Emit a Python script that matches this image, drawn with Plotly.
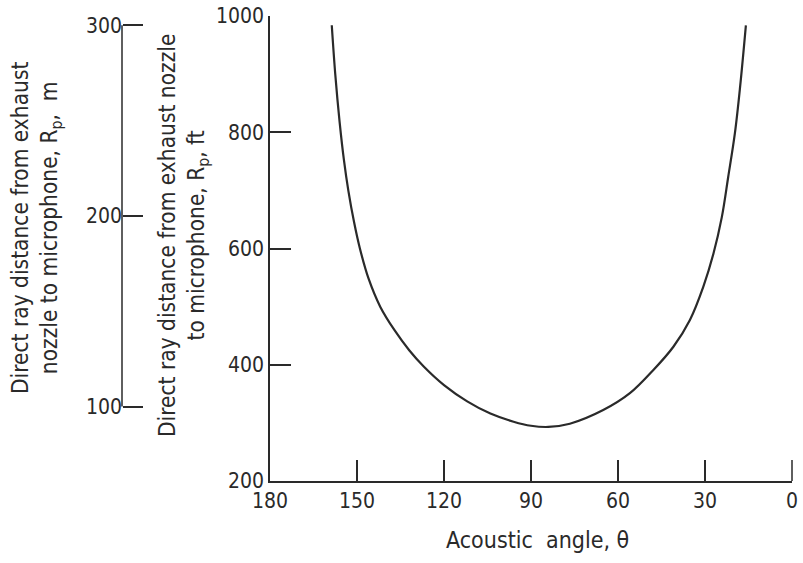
import plotly.graph_objects as go

# Acoustic angle (deg) and direct ray distance (ft)
angle_deg = [158.7, 157.5, 156.0, 154.5, 153.0, 151.0, 149.0, 146.0, 142.0, 137.0,
             132.0, 127.0, 120.0, 112.0, 104.0, 96.0, 90.0, 84.0, 76.6,
             65.1, 55.9, 47.8, 40.9, 35.2, 30.6, 27.1, 24.2, 22.0, 19.7,
             17.9, 15.9]
distance_ft = [984, 900, 818, 752, 700, 645, 600, 548, 500, 459,
               425, 397, 365, 337, 316, 302, 295, 293, 298.5,
               322, 351, 391, 431, 477, 534, 591, 654, 723, 798,
               878, 984]

x_ticks = [180, 150, 120, 90, 60, 30, 0]
ft_ticks = [200, 400, 600, 800, 1000]
m_ticks = [100, 200, 300]
FT_PER_M = 3.28084

FONT = "Liberation Sans Narrow, DejaVu Sans Condensed, Arial Narrow, sans-serif"
INK = "#2a2a2a"
TICKLEN = 21
PLOT_H = 465

fig = go.Figure()
fig.add_trace(go.Scatter(
    x=angle_deg, y=distance_ft, mode="lines",
    line=dict(color=INK, width=2.2, shape="spline", smoothing=1.0),
    showlegend=False, hoverinfo="skip"))

PW = 792  # paper width used by plot (803 - right margin)
x0 = 270 / PW
m_pos = 122 / PW

fig.update_layout(
    width=803, height=563,
    margin=dict(l=0, r=11, t=16, b=82, autoexpand=False),
    paper_bgcolor="white", plot_bgcolor="white",
    font=dict(family=FONT, size=21, color=INK),
    xaxis=dict(domain=[x0, 1], range=[180, 0], tickvals=x_ticks,
               ticktext=[str(v) for v in x_ticks],
               ticks="inside", ticklen=TICKLEN, tickwidth=1.5, tickcolor=INK,
               showline=True, linecolor=INK, linewidth=1.5,
               showgrid=False, zeroline=False, tickfont=dict(size=21),
               automargin=False),
    yaxis=dict(range=[200, 1000], tickvals=ft_ticks,
               ticks="inside", ticklen=TICKLEN, tickwidth=1.5, tickcolor=INK,
               showline=True, linecolor=INK, linewidth=1.5,
               showgrid=False, zeroline=False, tickfont=dict(size=21),
               automargin=False),
    yaxis2=dict(overlaying="y", anchor="free", position=m_pos, side="left",
                range=[200 / FT_PER_M, 1000 / FT_PER_M], tickvals=m_ticks,
                ticks="inside", ticklen=20, tickwidth=1.5, tickcolor=INK,
                showline=False, showgrid=False, zeroline=False,
                tickfont=dict(size=21), automargin=False),
)

# invisible trace to activate yaxis2
fig.add_trace(go.Scatter(x=[None], y=[None], yaxis="y2", showlegend=False))

# meter axis line spanning 100-300 m
fig.add_shape(type="line", xref="paper", yref="y2",
              x0=m_pos, x1=m_pos, y0=m_ticks[0], y1=m_ticks[-1],
              line=dict(color=INK, width=1.5))

# tick at the right end (0 deg) of the angle axis (paper x=1 is the 0 deg end)
fig.add_shape(type="line", xref="paper", yref="paper",
              x0=1, x1=1, y0=0, y1=TICKLEN / PLOT_H,
              line=dict(color=INK, width=1.5))

fig.add_annotation(text="Direct ray distance from exhaust nozzle<br>to microphone, R<sub>p</sub>, ft",
                   xref="paper", yref="paper", x=183 / PW, y=(481 - 236) / PLOT_H,
                   textangle=-90, showarrow=False, font=dict(size=22.5),
                   xanchor="center", yanchor="middle")
fig.add_annotation(text="Direct ray distance from exhaust<br>nozzle to microphone, R<sub>p</sub>,  m",
                   xref="paper", yref="paper", x=36 / PW, y=(481 - 228) / PLOT_H,
                   textangle=-90, showarrow=False, font=dict(size=22.5),
                   xanchor="center", yanchor="middle")
fig.add_annotation(text="Acoustic  angle, θ",
                   xref="paper", yref="paper", x=537 / PW, y=(481 - 540) / PLOT_H,
                   showarrow=False, font=dict(size=23),
                   xanchor="center", yanchor="middle")

fig.write_html("out.html")
